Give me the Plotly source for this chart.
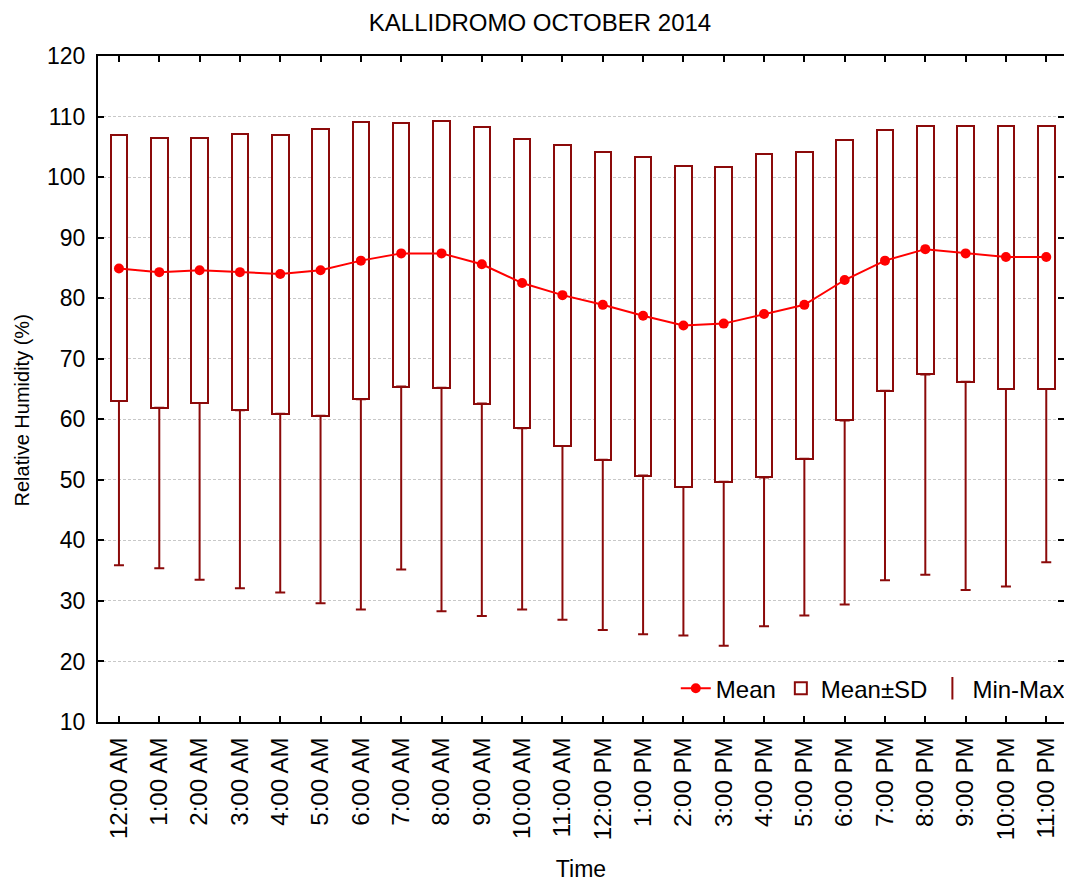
import plotly.graph_objects as go

hours = ["12:00 AM", "1:00 AM", "2:00 AM", "3:00 AM", "4:00 AM", "5:00 AM",
         "6:00 AM", "7:00 AM", "8:00 AM", "9:00 AM", "10:00 AM", "11:00 AM",
         "12:00 PM", "1:00 PM", "2:00 PM", "3:00 PM", "4:00 PM", "5:00 PM",
         "6:00 PM", "7:00 PM", "8:00 PM", "9:00 PM", "10:00 PM", "11:00 PM"]

mean_rh = [84.9, 84.3, 84.6, 84.3, 84.0, 84.6, 86.2, 87.4, 87.4, 85.6, 82.5, 80.5,
           78.9, 77.1, 75.5, 75.8, 77.4, 78.9, 83.0, 86.2, 88.1, 87.4, 86.8, 86.8]
sd_high = [106.9, 106.4, 106.4, 107.2, 107.0, 108.0, 109.1, 109.0, 109.2, 108.3, 106.3, 105.3,
           104.2, 103.3, 101.9, 101.7, 103.8, 104.2, 106.1, 107.7, 108.5, 108.5, 108.4, 108.5]
sd_low = [63.0, 61.9, 62.7, 61.5, 60.9, 60.6, 63.3, 65.4, 65.2, 62.6, 58.5, 55.6,
          53.3, 50.7, 48.8, 49.7, 50.4, 53.5, 59.8, 64.7, 67.4, 66.2, 65.0, 65.0]
min_rh = [35.9, 35.4, 33.5, 32.1, 31.4, 29.6, 28.6, 35.2, 28.3, 27.5, 28.6, 26.9,
          25.2, 24.5, 24.3, 22.6, 25.8, 27.6, 29.4, 33.4, 34.3, 31.8, 32.4, 36.4]

DARK = "#8b0a0a"
RED = "#ff0000"
FONT = "Liberation Sans, Arial, sans-serif"

x_idx = list(range(len(hours)))

fig = go.Figure()

# Min-Max whiskers (from box bottom to minimum)
fig.add_trace(go.Scatter(
    x=x_idx, y=sd_low, mode="markers",
    marker=dict(size=1, color="rgba(0,0,0,0)"),
    error_y=dict(type="data", symmetric=False,
                 array=[0] * len(hours),
                 arrayminus=[l - m for l, m in zip(sd_low, min_rh)],
                 color=DARK, thickness=2, width=5),
    showlegend=False, hoverinfo="skip"))

# Mean ± SD boxes
fig.add_trace(go.Bar(
    x=x_idx, y=[h - l for h, l in zip(sd_high, sd_low)], base=sd_low,
    width=0.41, marker=dict(color="white", line=dict(color=DARK, width=2)),
    name="Mean±SD", legendrank=2))

# Mean line
fig.add_trace(go.Scatter(
    x=x_idx, y=mean_rh, mode="lines+markers",
    line=dict(color=RED, width=2), marker=dict(color=RED, size=10),
    name="Mean", legendrank=1))

# Legend-only entry for Min-Max
fig.add_trace(go.Scatter(
    x=[None], y=[None], mode="markers",
    marker=dict(symbol="line-ns-open", size=22, color=DARK, line=dict(color=DARK, width=2)),
    name="Min-Max", legendrank=3))

W, H = 1064, 876
ML, MR, MT, MB = 90, 2, 48, 162
PW, PH = W - ML - MR, H - MT - MB

fig.update_layout(
    width=W, height=H,
    margin=dict(l=ML, r=MR, t=MT, b=MB),
    paper_bgcolor="white", plot_bgcolor="white",
    font=dict(family=FONT, color="black", size=22),
    title=dict(text="KALLIDROMO OCTOBER 2014", x=0.5, xanchor="center",
               y=1 - 15 / H, yanchor="middle", font=dict(size=24)),
    legend=dict(orientation="h", x=1.006, xanchor="right", y=0.05, yanchor="middle",
                bgcolor="rgba(0,0,0,0)", font=dict(size=24), itemwidth=30,
                traceorder="normal"),
    bargap=0,
    annotations=[dict(text="Relative Humidity (%)", textangle=-90,
                      xref="paper", yref="paper",
                      x=(14 - ML) / PW, y=1 - (402 - MT) / PH,
                      xanchor="center", yanchor="middle", showarrow=False,
                      font=dict(size=20))],
)

fig.update_xaxes(
    range=[-0.52, 23.44], tickmode="array", tickvals=x_idx, ticktext=hours,
    tickangle=-90, ticks="inside", ticklen=6, tickwidth=2, tickcolor="black",
    showline=True, linecolor="black", linewidth=2, mirror="ticks",
    showgrid=False, zeroline=False, tickfont=dict(size=24), ticklabelstandoff=4,
    title=dict(text="Time", font=dict(size=23), standoff=22))

fig.update_yaxes(
    range=[10, 120], tickmode="linear", tick0=10, dtick=10,
    ticks="inside", ticklen=6, tickwidth=2, tickcolor="black",
    showline=True, linecolor="black", linewidth=2, mirror="ticks",
    showgrid=True, gridcolor="#c8c8c8", gridwidth=1, griddash="3px,2px",
    zeroline=False, tickfont=dict(size=23), ticklabelstandoff=6)

fig.write_html("out.html")
